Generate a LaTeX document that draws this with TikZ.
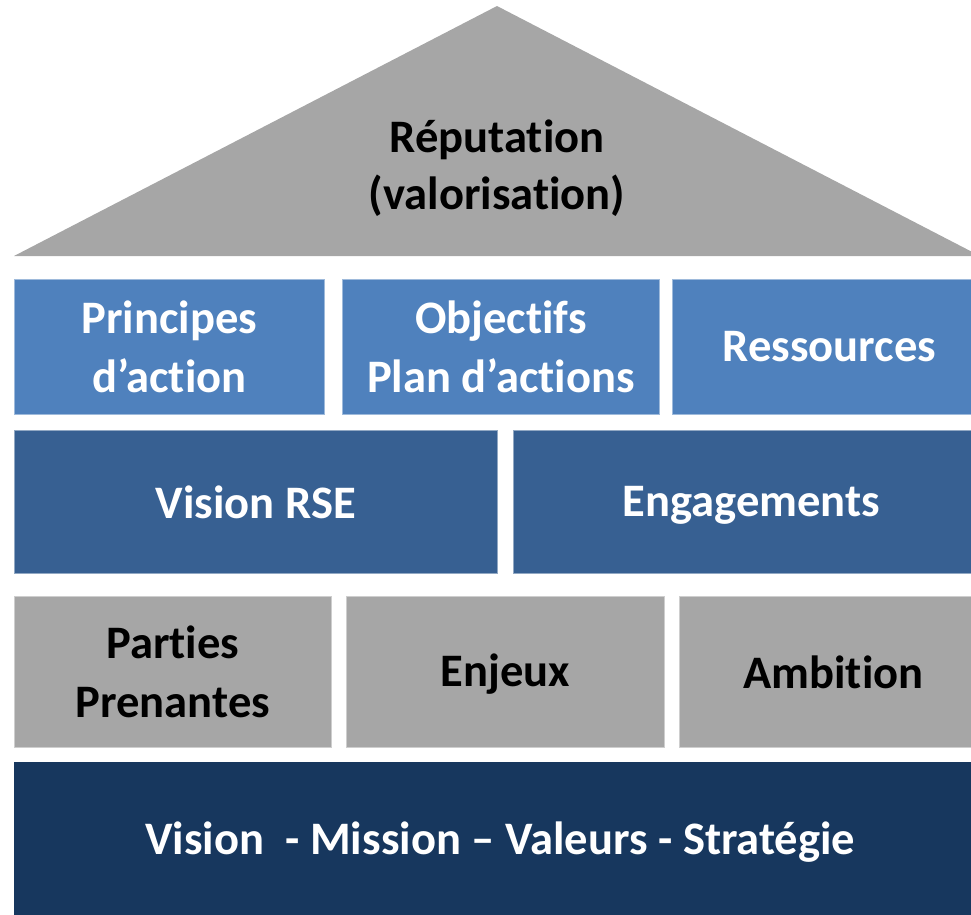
\documentclass[tikz,border=0pt]{standalone}
\usepackage{fontspec}
\setmainfont{Carlito}[Ligatures=NoCommon]
\usetikzlibrary{positioning}
\definecolor{roofgray}{HTML}{A6A6A6}
\definecolor{lightblue}{HTML}{4F81BD}
\definecolor{midblue}{HTML}{376092}
\definecolor{navyblue}{HTML}{17375E}

\begin{document}
\begin{tikzpicture}[x=0.02cm, y=-0.02cm,
    brick/.style={anchor=north west, inner sep=0pt, align=center,
        font=\fontsize{26.5}{33.6}\selectfont\bfseries},
    oneline/.style={text height=0.6cm, text depth=0pt},
    toprow/.style={brick, fill=lightblue, draw=lightblue!55!white, line width=0.5pt,
        text=white, minimum height=2.7cm},
    midrow/.style={brick, fill=midblue, draw=midblue!55!white, line width=0.5pt,
        text=white, minimum height=2.86cm},
    lowrow/.style={brick, fill=roofgray, draw=roofgray!55!white, line width=0.5pt,
        text=black, minimum height=3.02cm},
    baserow/.style={brick, fill=navyblue, text=white, minimum height=3.2cm}
]
\useasboundingbox (0,0) rectangle (971,914);
\clip (0,0) rectangle (971,914);

% roof
\fill[roofgray] (14,256) -- (497,6) -- (980,256) -- cycle;
\node[align=center, font=\fontsize{26.5}{32.4}\selectfont\bfseries] (roof) at (497,168)
    {Réputation\\(valorisation)};

% first floor
\node[toprow, minimum width=6.2cm]  (principes)  at (14,279)  {Principes\\d’action};
\node[toprow, minimum width=6.34cm] (objectifs)  at (342,279) {Objectifs\\Plan d’actions};
\node[toprow, minimum width=6.28cm] (ressources) at (672,279) {Ressources};

% second floor
\node[midrow, minimum width=9.66cm] (visionrse)   at (14,430)  {Vision RSE};
\node[midrow, oneline, minimum width=9.52cm] (engagements) at (513,430) {Engagements};

% ground floor
\node[lowrow, minimum width=6.34cm] (parties) at (14,596)  {Parties\\Prenantes};
\node[lowrow, oneline, minimum width=6.36cm] (enjeux)  at (346,596) {Enjeux};
\node[lowrow, minimum width=6.16cm] (ambition) at (679,596) {Ambition};

% foundation
\node[baserow, minimum width=19.44cm] (fondation) at (14,762)
    {Vision\ \ - Mission – Valeurs - Stratégie};
\end{tikzpicture}
\end{document}
